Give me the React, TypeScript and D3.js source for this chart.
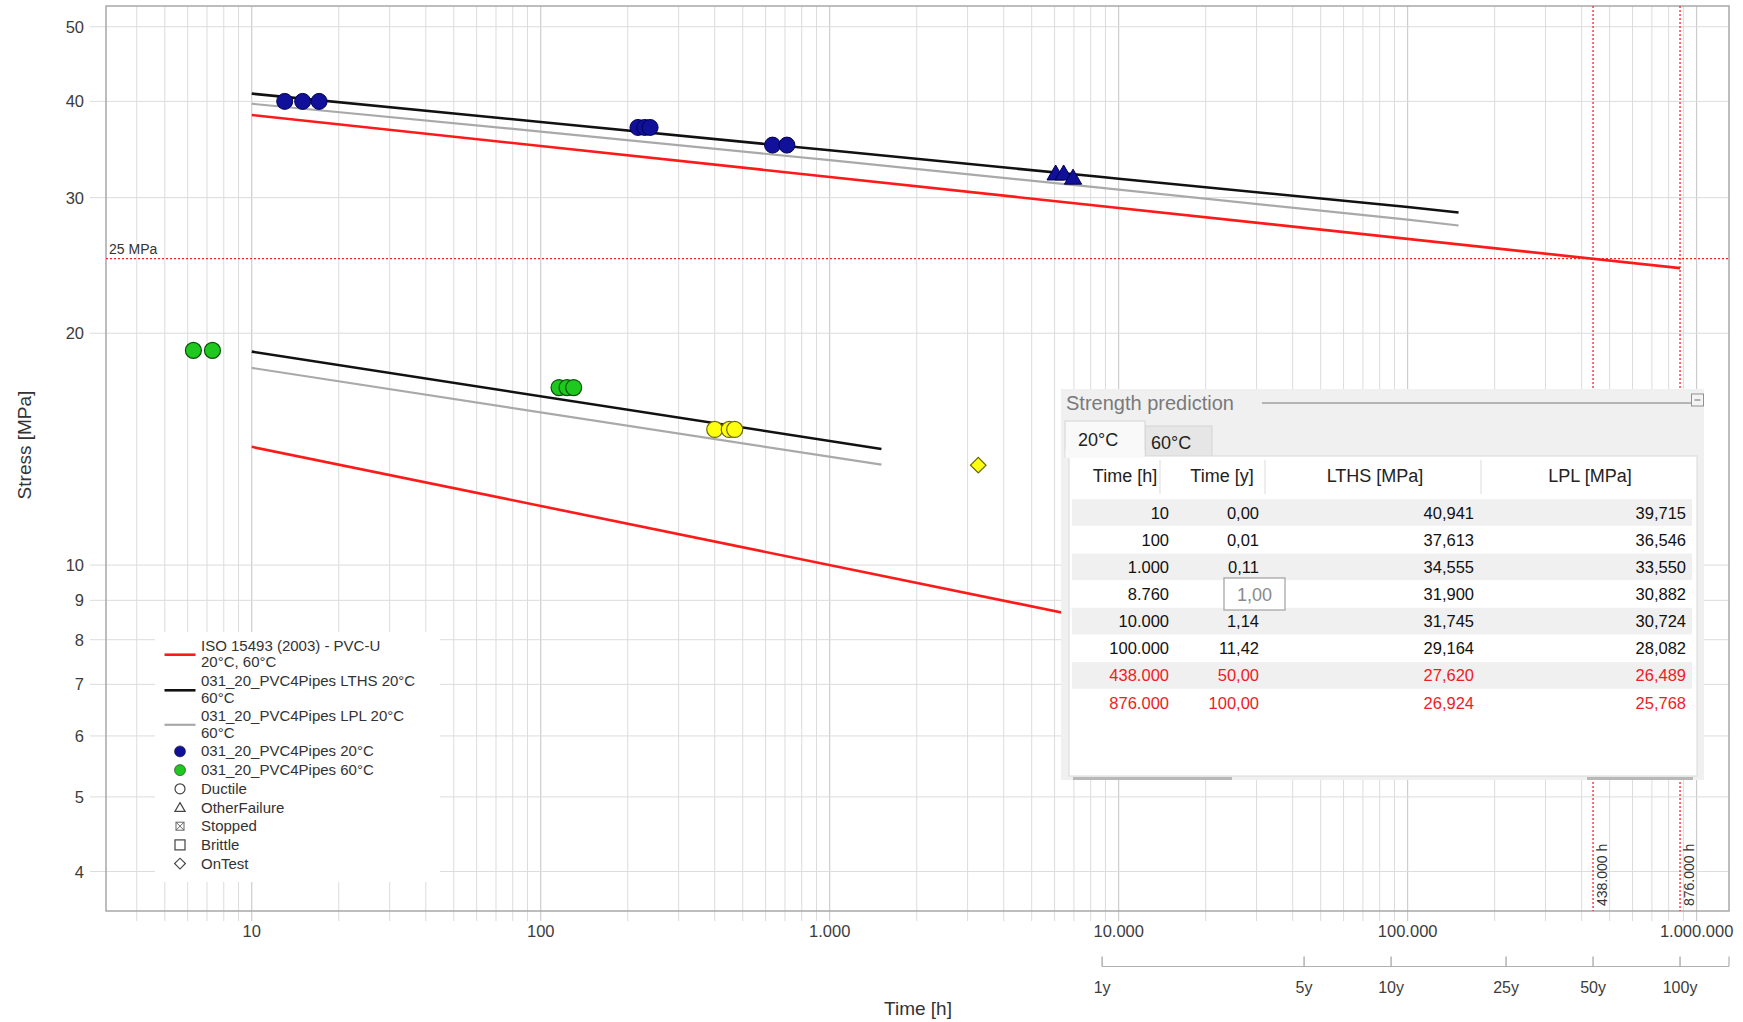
import React from 'react';
import * as d3 from 'd3';

const W = 1743;
const H = 1022;

// ---- axes ----
const X_DOMAIN = [3.13, 1294000];
const Y_DOMAIN = [3.555, 53.2];
const Y_TICKS = [4, 5, 6, 7, 8, 9, 10, 20, 30, 40, 50];
const X_LABEL_TICKS = [10, 100, 1000, 10000, 100000, 1000000];
const YEAR_TICKS = [1, 5, 10, 25, 50, 100];
const HOURS_PER_YEAR = 8760;
const REF_STRESS = 25;
const REF_TIMES = [438000, 876000];

// ---- ISO 15493 reference curves ----
const iso20Time = [10, 876000];
const iso20Stress = [38.4, 24.3];
const iso60Time = [10, 10000];
const iso60Stress = [14.24, 8.38];

// ---- fitted LTHS / LPL ----
const lths20Time = [10, 100, 1000, 8760, 10000, 100000, 150000];
const lths20Stress = [40.941, 37.613, 34.555, 31.9, 31.745, 29.164, 28.7];
const lpl20Stress = [39.715, 36.546, 33.55, 30.882, 30.724, 28.082, 27.6];
const lths60Time = [10, 1510];
const lths60Stress = [18.93, 14.15];
const lpl60Stress = [18.03, 13.5];

// ---- test points ----
const blueDuctileTime = [13.0, 15.0, 17.1, 217, 229, 239, 634, 711];
const blueDuctileStress = [40.0, 40.0, 40.0, 37.0, 37.0, 37.0, 35.1, 35.1];
const blueOtherTime = [6050, 6450, 6950];
const blueOtherStress = [32.1, 32.1, 31.7];
const greenDuctileTime = [6.28, 7.31, 115.7, 123.3, 130];
const greenDuctileStress = [19.0, 19.0, 17.0, 17.0, 17.0];
const yellowTime = [400, 449, 469];
const yellowStress = [15.0, 15.0, 15.0];
const onTestTime = [3266];
const onTestStress = [13.48];

// ---- strength prediction table ----
const tableHours = [10, 100, 1000, 8760, 10000, 100000, 438000, 876000];
const tableLTHS = [40.941, 37.613, 34.555, 31.9, 31.745, 29.164, 27.62, 26.924];
const tableLPL = [39.715, 36.546, 33.55, 30.882, 30.724, 28.082, 26.489, 25.768];
const tableHeaders = ['Time [h]', 'Time [y]', 'LTHS [MPa]', 'LPL [MPa]'];
const tabs = ['20°C', '60°C'];
const TOOLTIP_ROW = 3;

const legendLineItems = [
  { color: '#ff1a1a', w: 2.6, text: ['ISO 15493 (2003) - PVC-U', '20°C, 60°C'] },
  { color: '#111111', w: 2.6, text: ['031_20_PVC4Pipes LTHS 20°C', '60°C'] },
  { color: '#a9a9a9', w: 2.2, text: ['031_20_PVC4Pipes LPL 20°C', '60°C'] },
];
const legendMarkerItems = [
  { kind: 'dot', fill: '#10109a', text: '031_20_PVC4Pipes 20°C' },
  { kind: 'dot', fill: '#1ec81e', text: '031_20_PVC4Pipes 60°C' },
  { kind: 'circle', text: 'Ductile' },
  { kind: 'triangle', text: 'OtherFailure' },
  { kind: 'stopped', text: 'Stopped' },
  { kind: 'square', text: 'Brittle' },
  { kind: 'diamond', text: 'OnTest' },
];

const locale = d3.formatLocale({ decimal: ',', thousands: '.', grouping: [3], currency: ['', '€'] });
const fmtInt = locale.format(',d');
const fmt2 = locale.format(',.2f');
const fmt3 = locale.format(',.3f');

const FONT = "'Liberation Sans', Arial, sans-serif";

export default function App() {
  const L = 106, R = 1729, T = 6, B = 911;
  const x = d3.scaleLog().domain(X_DOMAIN).range([L, R]);
  const y = d3.scaleLog().domain(Y_DOMAIN).range([B, T]);

  const gridX: { v: number; major: boolean }[] = [];
  for (let d = 0; d <= 6; d++) {
    for (let k = 1; k <= 9; k++) {
      const v = k * Math.pow(10, d);
      if (v >= X_DOMAIN[0] && v <= X_DOMAIN[1]) gridX.push({ v, major: k === 1 });
    }
  }

  const line = (ts: number[], ss: number[]) =>
    d3.line<number>().x((_, i) => x(ts[i])).y((_, i) => y(ss[i]))(ts) || '';

  const tri = d3.symbol(d3.symbolTriangle, 130)() || '';
  const triSmall = d3.symbol(d3.symbolTriangle, 45)() || '';
  const sq = d3.symbol(d3.symbolSquare, 120)() || '';

  // panel geometry
  const P = { x: 1061, y: 389, w: 643, h: 391 };
  const rowY0 = 512.5, rowH = 27.15;
  const colRight = [1169, 1259, 1474, 1686];
  const headCenter = [1125, 1222, 1375, 1590];
  const headSeps = [1160, 1265, 1481];

  const yearY = 966.5;

  return (
    <svg width={W} height={H} style={{ position: 'absolute', left: 0, top: 0, background: '#fff' }} fontFamily={FONT}>
      <rect x={0} y={0} width={W} height={H} fill="#fff" />
      {/* grid */}
      {gridX.map((g, i) => (
        <line key={'gx' + i} x1={x(g.v)} x2={x(g.v)} y1={T} y2={B + 10}
          stroke={g.major ? '#c4c4c4' : '#dcdcdc'} strokeWidth={1} />
      ))}
      {Y_TICKS.map((v, i) => (
        <line key={'gy' + i} x1={L - 16} x2={R} y1={y(v)} y2={y(v)} stroke="#dcdcdc" strokeWidth={1} />
      ))}
      {/* border */}
      <rect x={L} y={T} width={R - L} height={B - T} fill="none" stroke="#a8a8a8" strokeWidth={1.5} />

      {/* y tick labels */}
      {Y_TICKS.map((v, i) => (
        <text key={'yl' + i} x={84} y={y(v) + 6} textAnchor="end" fontSize={16.5} fill="#3c3c3c">{v}</text>
      ))}
      {/* x tick labels */}
      {X_LABEL_TICKS.map((v, i) => (
        <text key={'xl' + i} x={x(v)} y={936.5} textAnchor="middle" fontSize={16.5} fill="#3c3c3c">{fmtInt(v)}</text>
      ))}
      {/* year axis */}
      <line x1={x(HOURS_PER_YEAR)} x2={R} y1={yearY} y2={yearY} stroke="#b0b0b0" strokeWidth={1.2} />
      <line x1={R} x2={R} y1={yearY} y2={yearY - 10} stroke="#b0b0b0" strokeWidth={1.2} />
      {YEAR_TICKS.map((yv, i) => (
        <g key={'yt' + i}>
          <line x1={x(yv * HOURS_PER_YEAR)} x2={x(yv * HOURS_PER_YEAR)} y1={yearY} y2={yearY - 10} stroke="#a0a0a0" strokeWidth={1.2} />
          <text x={x(yv * HOURS_PER_YEAR)} y={993} textAnchor="middle" fontSize={16} fill="#3c3c3c">{yv}y</text>
        </g>
      ))}
      {/* axis titles */}
      <text x={918} y={1015} textAnchor="middle" fontSize={19} fill="#333">Time [h]</text>
      <text transform="translate(31,445) rotate(-90)" textAnchor="middle" fontSize={19} fill="#333">Stress [MPa]</text>

      {/* reference dotted lines */}
      <line x1={L} x2={R} y1={y(REF_STRESS)} y2={y(REF_STRESS)} stroke="#ff2020" strokeWidth={1.3} strokeDasharray="2,2" />
      <text x={109} y={254} fontSize={14} fill="#333">{REF_STRESS} MPa</text>
      {REF_TIMES.map((t, i) => (
        <g key={'rt' + i}>
          <line x1={x(t)} x2={x(t)} y1={T} y2={B} stroke="#ff2020" strokeWidth={1.3} strokeDasharray="2,2" />
          <text transform={`translate(${x(t) + 14},906) rotate(-90)`} fontSize={14} fill="#333">{fmtInt(t)} h</text>
        </g>
      ))}

      {/* curves */}
      <path d={line(iso20Time, iso20Stress)} fill="none" stroke="#ff1a1a" strokeWidth={2.6} />
      <path d={line(iso60Time, iso60Stress)} fill="none" stroke="#ff1a1a" strokeWidth={2.6} />
      <path d={line(lths20Time, lpl20Stress)} fill="none" stroke="#a9a9a9" strokeWidth={2.2} />
      <path d={line(lths20Time, lths20Stress)} fill="none" stroke="#111" strokeWidth={2.6} />
      <path d={line(lths60Time, lpl60Stress)} fill="none" stroke="#a9a9a9" strokeWidth={2.2} />
      <path d={line(lths60Time, lths60Stress)} fill="none" stroke="#111" strokeWidth={2.6} />

      {/* points */}
      {blueDuctileTime.map((t, i) => (
        <circle key={'bd' + i} cx={x(t)} cy={y(blueDuctileStress[i])} r={8} fill="#10109a" stroke="#000050" strokeWidth={1} />
      ))}
      {blueOtherTime.map((t, i) => (
        <path key={'bo' + i} d={tri} transform={`translate(${x(t)},${y(blueOtherStress[i])})`} fill="#10109a" stroke="#000050" strokeWidth={1} />
      ))}
      {greenDuctileTime.map((t, i) => (
        <circle key={'gd' + i} cx={x(t)} cy={y(greenDuctileStress[i])} r={8} fill="#1ec81e" stroke="#0b500b" strokeWidth={1.2} />
      ))}
      {yellowTime.map((t, i) => (
        <circle key={'yd' + i} cx={x(t)} cy={y(yellowStress[i])} r={8} fill="#ffff10" stroke="#6a6a00" strokeWidth={1.2} />
      ))}
      {onTestTime.map((t, i) => (
        <path key={'ot' + i} d={sq} transform={`translate(${x(t)},${y(onTestStress[i])}) rotate(45)`} fill="#ffff10" stroke="#6a6a00" strokeWidth={1.2} />
      ))}

      {/* legend */}
      <rect x={155} y={632} width={285} height={250} fill="#fff" />
      {legendLineItems.map((it, i) => {
        const cy = [654.7, 690.3, 724.8][i];
        const ty = [645.8, 681.4, 715.9][i];
        return (
          <g key={'ll' + i}>
            <line x1={164.5} x2={195.5} y1={cy} y2={cy} stroke={it.color} strokeWidth={it.w} />
            <text x={201} y={ty + 5} fontSize={15} fill="#333">{it.text[0]}</text>
            <text x={201} y={ty + 5 + 16.6} fontSize={15} fill="#333">{it.text[1]}</text>
          </g>
        );
      })}
      {legendMarkerItems.map((it, i) => {
        const cy = 751.4 + i * 18.7;
        const cx = 180;
        let icon: React.ReactNode = null;
        if (it.kind === 'dot') icon = <circle cx={cx} cy={cy} r={5.5} fill={it.fill} stroke="#222" strokeWidth={0.6} />;
        else if (it.kind === 'circle') icon = <circle cx={cx} cy={cy} r={5} fill="none" stroke="#444" strokeWidth={1.2} />;
        else if (it.kind === 'triangle') icon = <path d={triSmall} transform={`translate(${cx},${cy + 1})`} fill="none" stroke="#444" strokeWidth={1.2} />;
        else if (it.kind === 'square') icon = <rect x={cx - 5} y={cy - 5} width={10} height={10} fill="none" stroke="#444" strokeWidth={1.2} />;
        else if (it.kind === 'diamond') icon = <rect x={cx - 3.8} y={cy - 3.8} width={7.6} height={7.6} transform={`rotate(45 ${cx} ${cy})`} fill="none" stroke="#444" strokeWidth={1.2} />;
        else if (it.kind === 'stopped') icon = (
          <g stroke="#666" strokeWidth={1}>
            <rect x={cx - 4} y={cy - 4} width={8} height={8} fill="none" />
            <line x1={cx - 4} y1={cy - 4} x2={cx + 4} y2={cy + 4} />
            <line x1={cx + 4} y1={cy - 4} x2={cx - 4} y2={cy + 4} />
          </g>
        );
        return (
          <g key={'lm' + i}>
            {icon}
            <text x={201} y={cy + 5} fontSize={15} fill="#333">{it.text}</text>
          </g>
        );
      })}

      {/* strength prediction panel */}
      <rect x={P.x} y={P.y} width={P.w} height={P.h} fill="#f0f0f0" />
      <text x={1066} y={410} fontSize={20} fill="#7a7a7a">Strength prediction</text>
      <line x1={1262} x2={1691} y1={403} y2={403} stroke="#a0a0a0" strokeWidth={1.3} />
      <rect x={1691.5} y={394} width={12} height={12} fill="#f4f4f4" stroke="#909090" strokeWidth={1} />
      <line x1={1694.5} x2={1700.5} y1={400} y2={400} stroke="#808080" strokeWidth={1.2} />
      {/* tabs */}
      <rect x={1145} y={426} width={67} height={31} fill="#e6e6e6" stroke="#d4d4d4" />
      <rect x={1065} y={421} width={80} height={36} fill="#f9f9f9" stroke="#d4d4d4" />
      <text x={1078} y={446} fontSize={18} fill="#222">{tabs[0]}</text>
      <text x={1151} y={449} fontSize={18} fill="#222">{tabs[1]}</text>
      {/* table frame */}
      <rect x={1069} y={456} width={628} height={320} fill="#fff" stroke="#d8d8d8" />
      <rect x={1065.5} y={450} width={79} height={8} fill="#f9f9f9" />
      {headSeps.map((sx, i) => (
        <line key={'hs' + i} x1={sx} x2={sx} y1={460} y2={494} stroke="#e2e2e2" strokeWidth={1.2} />
      ))}
      {tableHeaders.map((h, i) => (
        <text key={'th' + i} x={headCenter[i]} y={482} textAnchor="middle" fontSize={18} fill="#222">{h}</text>
      ))}
      {tableHours.map((hrs, i) => {
        const cy = rowY0 + i * rowH;
        const color = i >= 6 ? '#ee1c25' : '#111';
        const cells = [fmtInt(hrs), fmt2(hrs / HOURS_PER_YEAR), fmt3(tableLTHS[i]), fmt3(tableLPL[i])];
        return (
          <g key={'tr' + i}>
            {i % 2 === 0 && <rect x={1072} y={cy - 13.3} width={620} height={26.6} fill="#f0f0f0" />}
            {cells.map((c, j) => (i === TOOLTIP_ROW && j === 1) ? null : (
              <text key={j} x={colRight[j]} y={cy + 6} textAnchor="end" fontSize={16.5} fill={color}>{c}</text>
            ))}
          </g>
        );
      })}
      {/* tooltip box over the Time [y] cell of the 1-year row */}
      <rect x={1224} y={578} width={61} height={32} fill="#fff" stroke="#a0a0a0" strokeWidth={1.2} />
      <text x={1254.5} y={600.5} textAnchor="middle" fontSize={18} fill="#8a8a8a">{fmt2(tableHours[TOOLTIP_ROW] / HOURS_PER_YEAR)}</text>
      {/* scrollbar remnants */}
      <rect x={1073} y={777} width={159} height={3} fill="#b8b8b8" />
      <rect x={1587} y={777} width={106} height={3} fill="#b8b8b8" />
    </svg>
  );
}
